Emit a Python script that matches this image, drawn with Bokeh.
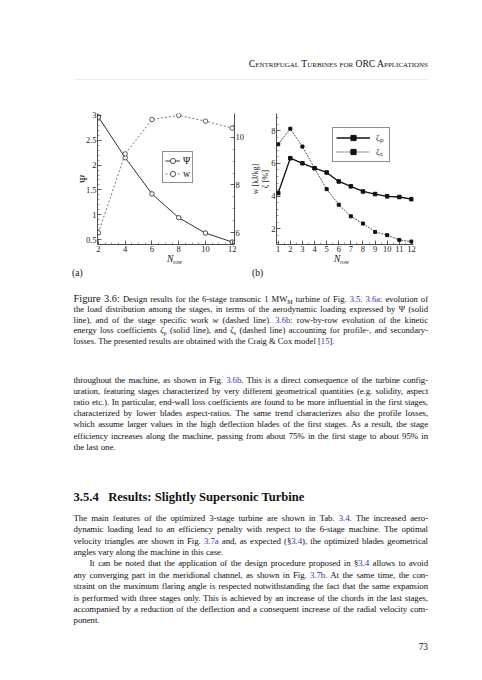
from bokeh.plotting import figure
from bokeh.models import (Range1d, LinearAxis, Legend, LegendItem, Div,
                          Spacer, FixedTicker, CustomJSTickFormatter)
from bokeh.layouts import column, row
from bokeh.embed import file_html
from bokeh.resources import INLINE
import numpy as np

# ---------------- data ----------------
n_stage = [2, 4, 6, 8, 10, 12]
psi = [2.97, 2.15, 1.42, 0.94, 0.63, 0.45]
work_kj = [6.0, 9.3, 10.74, 10.91, 10.67, 10.38]

n_row = [1, 2, 3, 4, 5, 6, 7, 8, 9, 10, 11, 12]
zeta_p = [4.19, 6.32, 6.01, 5.71, 5.45, 4.90, 4.60, 4.29, 4.13, 3.99, 3.95, 3.82]
zeta_s = [7.17, 8.12, 7.03, 5.71, 4.43, 3.48, 2.77, 2.33, 1.82, 1.62, 1.33, 1.23]

ticks_a_x = [2, 4, 6, 8, 10, 12]
ticks_psi = [0.5, 1, 1.5, 2, 2.5, 3]
ticks_w = [6, 8, 10]
ticks_b_x = [1, 2, 3, 4, 5, 6, 7, 8, 9, 10, 11, 12]
ticks_zeta = [2, 4, 6, 8]

SERIF = "Liberation Serif"
fmt = CustomJSTickFormatter(code="return String(Math.round(tick*100)/100);")


def style_axis(ax, ticks, minor, label_size="8.5px"):
    ax.ticker = FixedTicker(ticks=ticks, minor_ticks=minor)
    ax.formatter = fmt
    ax.major_tick_in = 4
    ax.major_tick_out = 0
    ax.minor_tick_in = 2
    ax.minor_tick_out = 0
    ax.axis_line_color = "#222222"
    ax.axis_line_width = 0.8
    ax.major_tick_line_color = "#222222"
    ax.minor_tick_line_color = "#444444"
    ax.major_tick_line_width = 0.7
    ax.minor_tick_line_width = 0.5
    ax.major_label_text_font = SERIF
    ax.major_label_text_font_size = label_size
    ax.major_label_text_color = "#222222"
    ax.major_label_standoff = 1
    ax.axis_label_text_font = SERIF
    ax.axis_label_text_font_style = "normal"
    ax.axis_label_text_color = "#222222"
    ax.axis_label_standoff = 1


def minor_list(a, b, step):
    return [round(v, 3) for v in np.arange(a, b + 1e-9, step)]


# ---------------- figure (a) ----------------
pa = figure(width=192, height=150, x_range=Range1d(1.93, 12.17), y_range=Range1d(0.40, 3.04),
            output_backend="svg", toolbar_location=None,
            min_border_left=42, min_border_right=12, min_border_top=8, min_border_bottom=11,
            outline_line_color=None, border_fill_color="white", background_fill_color="white")
pa.xgrid.visible = False
pa.ygrid.visible = False
pa.extra_y_ranges = {"w": Range1d(5.51, 10.99)}
right_ax = LinearAxis(y_range_name="w")
pa.add_layout(right_ax, "right")

style_axis(pa.xaxis[0], ticks_a_x, minor_list(2, 12, 0.5))
style_axis(pa.yaxis[0], ticks_psi, minor_list(0.5, 3, 0.1))
style_axis(right_ax, ticks_w, minor_list(5.5, 11, 0.5))
pa.yaxis[0].axis_label = "Ψ"
pa.yaxis[0].axis_label_text_font_size = "11px"
pa.yaxis[0].axis_label_standoff = -6

l_psi = pa.line(n_stage, psi, line_color="#333333", line_width=1)
s_psi = pa.scatter(n_stage, psi, marker="circle", size=4.5, fill_color="white",
                   line_color="#222222", line_width=0.8)
l_w = pa.line(n_stage, work_kj, y_range_name="w", line_color="#777777", line_width=1,
              line_dash="2 2")
s_w = pa.scatter(n_stage, work_kj, y_range_name="w", marker="circle", size=4.5,
                 fill_color="white", line_color="#333333", line_width=0.8)

leg_a = Legend(items=[LegendItem(label="Ψ", renderers=[l_psi, s_psi]),
                      LegendItem(label="w", renderers=[l_w, s_w])],
               location=(65, 61), orientation="vertical",
               border_line_color="#222222", border_line_width=0.8,
               background_fill_color="white", background_fill_alpha=1,
               padding=2, spacing=0, margin=0, glyph_width=15, glyph_height=13,
               label_standoff=3, label_width=6, label_height=13,
               label_text_font=SERIF, label_text_font_size="10px",
               label_text_color="#111111")
pa.add_layout(leg_a)

# ---------------- figure (b) ----------------
pb = figure(width=183, height=150, x_range=Range1d(0.86, 12.17), y_range=Range1d(1.05, 9.05),
            output_backend="svg", toolbar_location=None,
            min_border_left=26, min_border_right=17, min_border_top=7, min_border_bottom=11,
            outline_line_color=None, border_fill_color="white", background_fill_color="white")
pb.xgrid.visible = False
pb.ygrid.visible = False
style_axis(pb.xaxis[0], ticks_b_x, minor_list(1, 12, 0.5))
style_axis(pb.yaxis[0], ticks_zeta, minor_list(1.2, 9, 0.4))
pb.yaxis[0].axis_label = "ζ [%]"
pb.yaxis[0].axis_label_text_font_size = "8.5px"
pb.yaxis[0].axis_label_standoff = -2

# label of the w axis of chart (a): it sits between the two charts and reads upwards
w_label_ax = LinearAxis(axis_label="w [kJ/kg]", ticker=FixedTicker(ticks=[], minor_ticks=[]),
                        axis_line_color=None, major_tick_line_color=None,
                        minor_tick_line_color=None, major_tick_in=0, major_tick_out=0,
                        minor_tick_in=0, minor_tick_out=0, major_label_standoff=0,
                        axis_label_standoff=-2,
                        axis_label_text_font=SERIF, axis_label_text_font_style="normal",
                        axis_label_text_font_size="8px", axis_label_text_color="#222222",
                        major_label_text_font_size="1px")
pb.add_layout(w_label_ax, "left")

l_zp = pb.line(n_row, zeta_p, line_color="#111111", line_width=1.3)
s_zp = pb.scatter(n_row, zeta_p, marker="square", size=3.5, fill_color="#111111",
                  line_color="#111111")
l_zs = pb.line(n_row, zeta_s, line_color="#555555", line_width=1, line_dash="2 1")
s_zs = pb.scatter(n_row, zeta_s, marker="square", size=3, fill_color="#111111",
                  line_color="#111111")

leg_b = Legend(items=[LegendItem(label="ζₚ", renderers=[l_zp, s_zp]),
                      LegendItem(label="ζₛ", renderers=[l_zs, s_zs])],
               location=(56, 82), orientation="vertical",
               border_line_color="#222222", border_line_width=0.8,
               background_fill_color="white", background_fill_alpha=1,
               padding=3, spacing=1, margin=0, glyph_width=34, glyph_height=13,
               label_standoff=6, label_width=10, label_height=13,
               label_text_font=SERIF, label_text_font_size="9px",
               label_text_color="#111111")
pb.add_layout(leg_b)

# ---------------- text blocks ----------------
BLUE = "#3434b8"
L = 73.5
W = 354.5
BODY_J = "font-size:8.9px;letter-spacing:-0.1px;word-spacing:-0.6px;"
BODY_L = "font-size:8.9px;letter-spacing:-0.05px;"
CAP = "font-size:8.6px;"


def ln(center, html, style, lh=11.0, justify=True, indent=0.0):
    top = center - lh / 2.0
    tal = "justify" if justify else "left"
    return (f'<div style="position:absolute;left:{L + indent}px;top:{top:.1f}px;'
            f'width:{W - indent}px;{style}line-height:{lh}px;'
            f'text-align:justify;text-align-last:{tal};">{html}</div>')


def a(t):
    return f'<span style="color:{BLUE}">{t}</span>'


top_html = (
    f'<div style="position:relative;width:482px;height:105px;font-family:\'{SERIF}\';color:#111;">'
    f'<div style="position:absolute;left:{L}px;top:58px;width:{W}px;text-align:right;'
    f'font-size:9.6px;line-height:12px;font-variant:small-caps;">'
    f'Centrifugal Turbines for ORC Applications</div>'
    f'<div style="position:absolute;left:{L}px;top:79px;width:{W}px;height:0;'
    f'border-top:0.6px solid #eeeeee;"></div>'
    '</div>'
)

SUB = '<span style="font-size:6px;position:relative;top:2px;">{}</span>'

cap_lines = [
    ('<span style="font-size:10.4px">Figure 3.6:</span> Design results for the 6-stage transonic 1 MW'
     + SUB.format("M") + ' turbine of Fig. ' + a("3.5") + '. ' + a("3.6a") + ': evolution of', True),
    ('the load distribution among the stages, in terms of the aerodynamic loading expressed by Ψ (solid', True),
    ('line), and of the stage specific work <i>w</i> (dashed line). ' + a("3.6b") +
     ': row-by-row evolution of the kinetic', True),
    ('energy loss coefficients <i>ζ</i>' + SUB.format("p") + ' (solid line), and '
     '<i>ζ</i>' + SUB.format("s") + ' (dashed line) accounting for profile-, and secondary-', True),
    ('losses. The presented results are obtained with the Craig &amp; Cox model [' + a("15") + '].', False),
]

body1 = [
    ('throughout the machine, as shown in Fig. ' + a("3.6b") + '. This is a direct consequence of the turbine config-', True),
    ('uration, featuring stages characterized by very different geometrical quantities (e.g. solidity, aspect', True),
    ('ratio etc.). In particular, end-wall loss coefficients are found to be more influential in the first stages,', True),
    ('characterized by lower blades aspect-ratios. The same trend characterizes also the profile losses,', True),
    ('which assume larger values in the high deflection blades of the first stages. As a result, the stage', True),
    ('efficiency increases along the machine, passing from about 75% in the first stage to about 95% in', True),
    ('the last one.', False),
]

body2 = [
    ('The main features of the optimized 3-stage turbine are shown in Tab. ' + a("3.4") + '. The increased aero-', True, 0),
    ('dynamic loading lead to an efficiency penalty with respect to the 6-stage machine. The optimal', True, 0),
    ('velocity triangles are shown in Fig. ' + a("3.7a") + ' and, as expected (§' + a("3.4") +
     '), the optimized blades geometrical', True, 0),
    ('angles vary along the machine in this case.', False, 0),
    ('It can be noted that the application of the design procedure proposed in §' + a("3.4") + ' allows to avoid', True, 16),
    ('any converging part in the meridional channel, as shown in Fig. ' + a("3.7b") + '. At the same time, the con-', True, 0),
    ('straint on the maximum flaring angle is respected notwithstanding the fact that the same expansion', True, 0),
    ('is performed with three stages only. This is achieved by an increase of the chords in the last stages,', True, 0),
    ('accompanied by a reduction of the deflection and a consequent increase of the radial velocity com-', True, 0),
    ('ponent.', False, 0),
]

B0 = 255  # page y where the bottom block starts
parts = []
nrow = ('<i style="font-size:9.5px">N</i><span style="font-size:5.5px;position:relative;top:1.5px;">row</span>')
parts.append(f'<div style="position:absolute;left:167px;top:-1px;line-height:9px;white-space:nowrap;">{nrow}</div>')
parts.append(f'<div style="position:absolute;left:334px;top:-1px;line-height:9px;white-space:nowrap;">{nrow}</div>')
parts.append(f'<div style="position:absolute;left:72px;top:{273 - B0 - 5.5}px;font-size:9.5px;line-height:11px;">(a)</div>')
parts.append(f'<div style="position:absolute;left:252px;top:{273 - B0 - 5.5}px;font-size:9.5px;line-height:11px;">(b)</div>')
for i, (t, j) in enumerate(cap_lines):
    parts.append(ln(299 - B0 + 10.5 * i, t, CAP, lh=10.5, justify=j))
for i, (t, j) in enumerate(body1):
    parts.append(ln(380 - B0 + 11.2 * i, t, BODY_J if j else BODY_L, justify=j))
parts.append(f'<div style="position:absolute;left:{L}px;top:{497 - B0 - 7}px;font-size:12.6px;line-height:14px;'
             f'font-weight:bold;white-space:nowrap;">3.5.4&nbsp;&nbsp;&nbsp;Results: Slightly Supersonic Turbine</div>')
for i, (t, j, ind) in enumerate(body2):
    parts.append(ln(518.3 - B0 + 11.4 * i, t, BODY_J if j else BODY_L, justify=j, indent=ind))
parts.append(f'<div style="position:absolute;left:{L}px;top:{647 - B0 - 5.5}px;width:{W}px;text-align:right;'
             f'font-size:9.3px;line-height:11px;">73</div>')

bottom_html = (f'<div style="position:relative;width:482px;height:{680 - B0 - 8}px;font-family:\'{SERIF}\';color:#111;">'
               + "".join(parts) + '</div>')

top_div = Div(text=top_html, width=482, height=105, margin=(0, 0, 0, 0))
bottom_div = Div(text=bottom_html, width=482, height=680 - B0 - 8, margin=(0, 0, 0, 0))

charts = row(Spacer(width=55, height=150, margin=(0, 0, 0, 0)), pa, pb, margin=(0, 0, 0, 0))
page = column(top_div, charts, bottom_div, margin=(0, 0, 0, 0))

open("out.html", "w").write(file_html(page, INLINE))
